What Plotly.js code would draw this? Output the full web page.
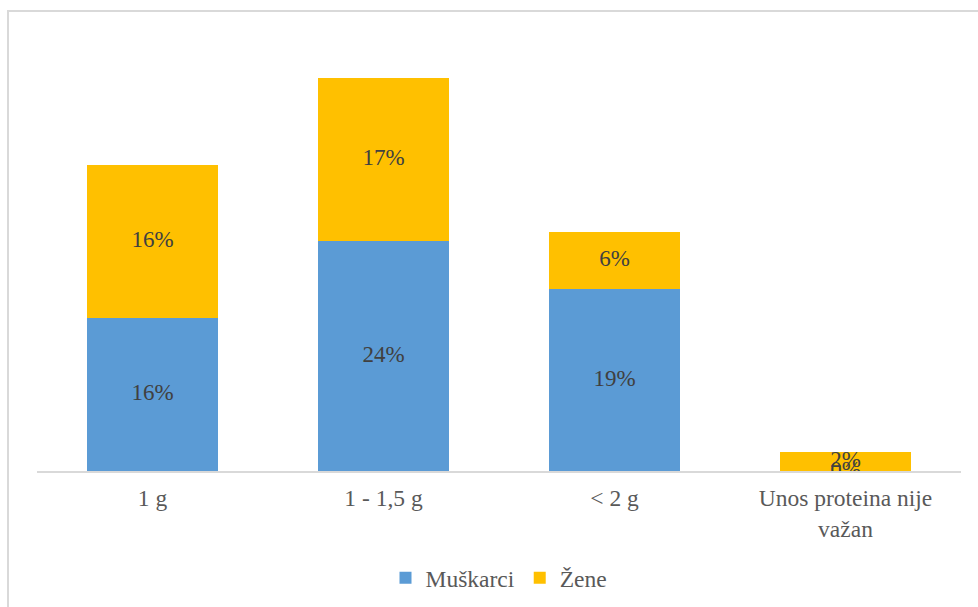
<!DOCTYPE html>
<html>
<head>
<meta charset="utf-8">
<script src="https://cdn.plot.ly/plotly-3.0.1.min.js"></script>
<style>
  html, body { margin: 0; padding: 0; background: #fff; overflow: hidden; }
  #chart { width: 978px; height: 607px; position: absolute; left: 0; top: 0; }
  #frame { position: absolute; left: 7px; top: 10px; width: 1200px; height: 1200px;
           border-left: 2px solid #d9d9d9; border-top: 2px solid #d9d9d9; pointer-events: none; }
</style>
</head>
<body>
<div id="chart"></div>
<div id="frame"></div>
<script>
const categories = ["1 g", "1 - 1,5 g", "< 2 g", "Unos proteina nije<br>važan"];
const seriesNames = ["Muškarci", "Žene"];
const muskarci = [16, 24, 19, 0];
const zene = [16, 17, 6, 2];
const colors = ["#5B9BD5", "#FFC000"];

const FAMILY = "Liberation Serif";
const labelFont = { family: FAMILY, size: 23, color: "#404040" };

const traces = [
  { type: "bar", name: seriesNames[0], x: categories, y: muskarci, marker: { color: colors[0] }, hoverinfo: "none" },
  { type: "bar", name: seriesNames[1], x: categories, y: zene, marker: { color: colors[1] }, hoverinfo: "none" },
  { type: "scatter", mode: "text", showlegend: false, x: categories,
    y: muskarci.map(v => v / 2), text: muskarci.map(v => v + "%"),
    textposition: "middle center", textfont: labelFont, hoverinfo: "none" },
  { type: "scatter", mode: "text", showlegend: false, x: categories,
    y: zene.map((v, i) => muskarci[i] + v / 2), text: zene.map(v => v + "%"),
    textposition: "middle center", textfont: labelFont, hoverinfo: "none" }
];

const layout = {
  width: 978, height: 607,
  margin: { l: 37, r: 17, t: 40, b: 136, autoexpand: false },
  barmode: "stack",
  bargap: 0.433,
  paper_bgcolor: "#ffffff",
  plot_bgcolor: "#ffffff",
  font: { family: FAMILY, size: 23.5, color: "#595959" },
  xaxis: {
    showline: true, linecolor: "#d9d9d9", linewidth: 2,
    ticks: "", showgrid: false, zeroline: false, automargin: false,
    ticklabelstandoff: 5,
    tickfont: { family: FAMILY, size: 23.5, color: "#595959" }
  },
  yaxis: {
    range: [0, 45], visible: false, showgrid: false, zeroline: false
  },
  showlegend: true,
  legend: {
    orientation: "h", traceorder: "normal",
    x: 0.5, xanchor: "center", y: -0.248, yanchor: "middle",
    font: { family: FAMILY, size: 23.5, color: "#595959" },
    itemclick: false, itemdoubleclick: false
  }
};

Plotly.newPlot("chart", traces, layout, { displayModeBar: false, staticPlot: true });
</script>
</body>
</html>
